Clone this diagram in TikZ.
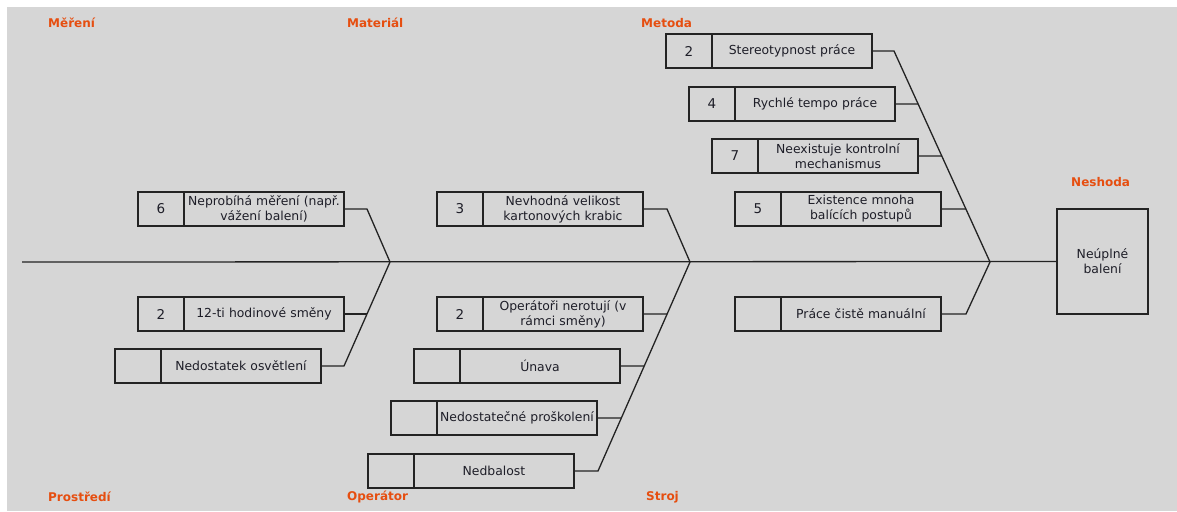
\documentclass[tikz,border=0pt]{standalone}
\usepackage{fontspec}
\setmainfont{DejaVu Sans}
\usetikzlibrary{calc}
\definecolor{bggray}{RGB}{214,214,214}
\definecolor{catorange}{RGB}{230,78,16}
\definecolor{inkdark}{RGB}{30,30,40}
\definecolor{bonecol}{RGB}{35,35,35}
\tikzset{
  numcell/.style={draw=bonecol, line width=1.3pt, minimum width=46pt, minimum height=34pt,
    inner sep=0pt, outer sep=0pt, anchor=west, text=inkdark, font=\fontsize{13.5}{15}\selectfont},
  txtcell/.style={draw=bonecol, line width=1.3pt, minimum width=160pt, minimum height=34pt,
    inner sep=0pt, outer sep=0pt, anchor=west, align=center, text width=158pt, text=inkdark,
    font=\fontsize{12.4}{15}\selectfont},
  effectbox/.style={draw=bonecol, line width=1.3pt, minimum width=91pt, minimum height=105pt,
    inner sep=0pt, outer sep=0pt, align=center, text=inkdark, font=\fontsize{12.4}{15}\selectfont},
  catlabel/.style={anchor=west, inner sep=0pt, text=catorange, font=\bfseries\fontsize{12}{14}\selectfont},
  bone/.style={draw=bonecol, line width=1.3pt}
}
\begin{document}
\begin{tikzpicture}[x=1pt, y=-1pt]
  % canvas
  \useasboundingbox (0,0) rectangle (1177,511);
  \fill[white] (0,0) rectangle (1177,511);
  \fill[bggray] (7,7) rectangle (1177,511);

  % category labels
  \node[catlabel] (lmer) at (48,23)  {Měření};
  \node[catlabel] (lmat) at (347,23) {Materiál};
  \node[catlabel] (lmet) at (641,23) {Metoda};
  \node[catlabel] (lnes) at (1071,182) {Neshoda};
  \node[catlabel] (lpro) at (48,497)  {Prostředí};
  \node[catlabel] (lope) at (347,497) {Operátor};
  \node[catlabel] (lstr) at (646,497) {Stroj};

  % effect
  \node[effectbox] (eff) at (1102.5,261.5) {Neúplné\\balení};
  \coordinate (spinestart) at (22,262);

  % junctions on the spine
  \coordinate (jE) at (390,262);
  \coordinate (jA) at (690,262);
  \coordinate (jM) at (990,262);

  % spine
  \draw[bone] (spinestart) -- (eff.west);

  % ---- first bone ----
  \node[numcell] (e1n) at (138,209) {6};
  \node[txtcell] (e1t) at (e1n.east) {Neprobíhá měření (např.\\vážení balení)};
  \node[numcell] (e2n) at (138,314) {2};
  \node[txtcell] (e2t) at (e2n.east) {12-ti hodinové směny};
  \node[numcell] (e3n) at (115,366) {};
  \node[txtcell] (e3t) at (e3n.east) {Nedostatek osvětlení};
  \coordinate (eTop) at (367,209);
  \coordinate (eBot) at (344,366);
  \coordinate (e2s) at ($(jE)!0.5!(eBot)$);
  \draw[bone] (e1t.east) -- (eTop) -- (jE) -- (eBot) -- (e3t.east);
  \draw[bone] (e2t.east) -- (e2s);

  % ---- second bone ----
  \node[numcell] (a1n) at (437,209) {3};
  \node[txtcell] (a1t) at (a1n.east) {Nevhodná velikost\\kartonových krabic};
  \node[numcell] (a2n) at (437,314) {2};
  \node[txtcell] (a2t) at (a2n.east) {Operátoři nerotují (v\\rámci směny)};
  \node[numcell] (a3n) at (414,366) {};
  \node[txtcell] (a3t) at (a3n.east) {Únava};
  \node[numcell] (a4n) at (391,418) {};
  \node[txtcell] (a4t) at (a4n.east) {Nedostatečné proškolení};
  \node[numcell] (a5n) at (368,471) {};
  \node[txtcell] (a5t) at (a5n.east) {Nedbalost};
  \coordinate (aTop) at (667,209);
  \coordinate (aBot) at (598,471);
  \coordinate (a2s) at ($(jA)!52/209!(aBot)$);
  \coordinate (a3s) at ($(jA)!104/209!(aBot)$);
  \coordinate (a4s) at ($(jA)!156/209!(aBot)$);
  \draw[bone] (a1t.east) -- (aTop) -- (jA) -- (aBot) -- (a5t.east);
  \draw[bone] (a2t.east) -- (a2s);
  \draw[bone] (a3t.east) -- (a3s);
  \draw[bone] (a4t.east) -- (a4s);

  % ---- third bone ----
  \node[numcell] (m1n) at (666,51) {2};
  \node[txtcell] (m1t) at (m1n.east) {Stereotypnost práce};
  \node[numcell] (m2n) at (689,104) {4};
  \node[txtcell] (m2t) at (m2n.east) {Rychlé tempo práce};
  \node[numcell] (m3n) at (712,156) {7};
  \node[txtcell] (m3t) at (m3n.east) {Neexistuje kontrolní\\mechanismus};
  \node[numcell] (m4n) at (735,209) {5};
  \node[txtcell] (m4t) at (m4n.east) {Existence mnoha\\balících postupů};
  \node[numcell] (m5n) at (735,314) {};
  \node[txtcell] (m5t) at (m5n.east) {Práce čistě manuální};
  \coordinate (mTop) at (894,51);
  \coordinate (mBot) at (966,314);
  \coordinate (m2s) at ($(mTop)!53/211!(jM)$);
  \coordinate (m3s) at ($(mTop)!105/211!(jM)$);
  \coordinate (m4s) at ($(mTop)!158/211!(jM)$);
  \draw[bone] (m1t.east) -- (mTop) -- (jM) -- (mBot) -- (m5t.east);
  \draw[bone] (m2t.east) -- (m2s);
  \draw[bone] (m3t.east) -- (m3s);
  \draw[bone] (m4t.east) -- (m4s);
\end{tikzpicture}
\end{document}
